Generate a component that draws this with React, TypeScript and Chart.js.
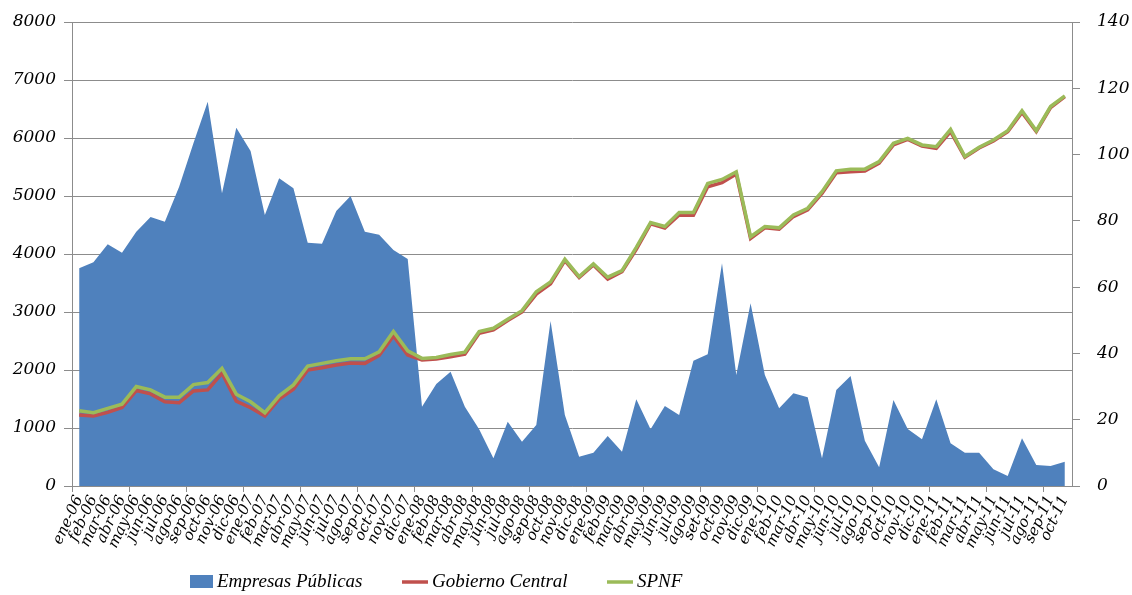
import React, { useEffect, useRef } from "react";
import { Chart, registerables } from "chart.js";

Chart.register(...registerables);

const labels = [
  "ene-06", "feb-06", "mar-06", "abr-06", "may-06", "jun-06", "jul-06", "ago-06", "sep-06", "oct-06", "nov-06", "dic-06",
  "ene-07", "feb-07", "mar-07", "abr-07", "may-07", "jun-07", "jul-07", "ago-07", "sep-07", "oct-07", "nov-07", "dic-07",
  "ene-08", "feb-08", "mar-08", "abr-08", "may-08", "jun-08", "jul-08", "ago-08", "sep-08", "oct-08", "nov-08", "dic-08",
  "ene-09", "feb-09", "mar-09", "abr-09", "may-09", "jun-09", "jul-09", "ago-09", "set-09", "oct-09", "nov-09", "dic-09",
  "ene-10", "feb-10", "mar-10", "abr-10", "may-10", "jun-10", "jul-10", "ago-10", "sep-10", "oct-10", "nov-10", "dic-10",
  "ene-11", "feb-11", "mar-11", "abr-11", "may-11", "jun-11", "jul-11", "ago-11", "sep-11", "oct-11",
];

const empresasPublicas = [
  3753, 3857, 4167, 4023, 4385, 4638, 4557, 5161, 5908, 6626, 5046, 6178,
  5776, 4672, 5305, 5132, 4195, 4178, 4741, 5000, 4385, 4333, 4069, 3914,
  1368, 1759, 1971, 1368, 977, 477, 1109, 764, 1052, 2845, 1224, 506,
  575, 862, 592, 1494, 977, 1379, 1224, 2161, 2270, 3839, 1914, 3149,
  1914, 1339, 1598, 1529, 477, 1655, 1897, 782, 322, 1483, 983, 805,
  1494, 736, 575, 575, 287, 172, 822, 362, 345, 420,
];

const gobiernoCentral = [
  21.4, 21.1, 22.2, 23.7, 28.8, 27.8, 25.4, 25.1, 28.7, 29.0, 34.0, 25.6,
  23.6, 21.1, 26.2, 29.2, 35.0, 35.7, 36.5, 37.1, 37.0, 39.4, 45.3, 39.5,
  38.0, 38.3, 39.0, 39.8, 46.1, 47.1, 49.9, 52.5, 57.9, 61.0, 68.0, 62.9,
  66.7, 62.4, 64.7, 71.4, 79.1, 77.8, 81.8, 81.7, 90.3, 91.5, 94.1, 74.7,
  77.9, 77.5, 81.3, 83.3, 88.3, 94.5, 94.8, 95.0, 97.4, 102.9, 104.6, 102.6,
  101.9, 106.9, 99.2, 102.0, 104.1, 106.9, 112.7, 106.9, 114.2, 117.5,
];

const spnf = [
  22.7, 22.1, 23.4, 24.7, 30.0, 29.0, 26.8, 26.8, 30.6, 31.2, 35.5, 27.7,
  25.4, 22.1, 27.2, 30.5, 36.2, 37.0, 37.8, 38.4, 38.4, 40.5, 46.6, 40.8,
  38.5, 38.8, 39.7, 40.4, 46.6, 47.6, 50.3, 52.9, 58.6, 61.6, 68.4, 63.2,
  67.0, 63.0, 65.0, 72.0, 79.5, 78.3, 82.5, 82.5, 91.3, 92.5, 94.8, 75.2,
  78.3, 77.9, 81.8, 83.8, 88.8, 95.1, 95.6, 95.6, 97.9, 103.4, 104.9, 102.9,
  102.4, 107.6, 99.4, 102.2, 104.4, 107.2, 113.2, 107.2, 114.5, 117.7,
];

const seriesNames = ["Empresas Públicas", "Gobierno Central", "SPNF"];
const seriesColors = ["#4F81BD", "#C0504D", "#9BBB59"];

const GRID = "#8c8c8c";
const tickFont = { family: "'DejaVu Serif'", style: "italic" as const, size: 17 };
const xFont = { family: "'DejaVu Serif'", style: "italic" as const, size: 15 };

export default function App() {
  const ref = useRef<HTMLCanvasElement | null>(null);

  useEffect(() => {
    if (!ref.current) return;

    const legendPlugin = {
      id: "customLegend",
      afterDraw(chart: any) {
        const ctx = chart.ctx;
        ctx.save();
        ctx.font = "italic 19px 'Liberation Serif'";
        ctx.textBaseline = "middle";
        ctx.fillStyle = "#000";
        const y = 582;
        ctx.fillStyle = seriesColors[0];
        ctx.fillRect(190, 575, 23, 13);
        ctx.fillStyle = "#000";
        ctx.fillText(seriesNames[0], 217, y);
        ctx.strokeStyle = seriesColors[1];
        ctx.lineWidth = 3.5;
        ctx.beginPath();
        ctx.moveTo(402, y);
        ctx.lineTo(428, y);
        ctx.stroke();
        ctx.fillText(seriesNames[1], 432, y);
        ctx.strokeStyle = seriesColors[2];
        ctx.beginPath();
        ctx.moveTo(607, y);
        ctx.lineTo(633, y);
        ctx.stroke();
        ctx.fillText(seriesNames[2], 637, y);
        ctx.restore();
      },
    };

    const zeroPad = (s: any) => {
      s.paddingTop = 0;
      s.paddingBottom = 0;
    };

    const chart = new Chart(ref.current, {
      type: "line",
      data: {
        labels,
        datasets: [
          {
            label: seriesNames[0],
            data: empresasPublicas,
            yAxisID: "y",
            fill: "origin",
            backgroundColor: seriesColors[0],
            borderColor: seriesColors[0],
            borderWidth: 0,
            pointRadius: 0,
            tension: 0,
            order: 3,
          },
          {
            label: seriesNames[1],
            data: gobiernoCentral,
            yAxisID: "y1",
            fill: false,
            borderColor: seriesColors[1],
            borderWidth: 3.5,
            pointRadius: 0,
            tension: 0,
            order: 2,
          },
          {
            label: seriesNames[2],
            data: spnf,
            yAxisID: "y1",
            fill: false,
            borderColor: seriesColors[2],
            borderWidth: 3.5,
            pointRadius: 0,
            tension: 0,
            order: 1,
          },
        ],
      },
      options: {
        responsive: false,
        animation: false,
        layout: { padding: { top: 22, left: 0, right: 0, bottom: 0 } },
        plugins: {
          legend: { display: false },
          tooltip: { enabled: false },
        },
        scales: {
          x: {
            type: "category",
            offset: true,
            grid: {
              offset: true,
              drawOnChartArea: false,
              drawTicks: true,
              tickLength: 6,
              color: (c: any) =>
                c.index !== undefined && c.index % 4 === 0 ? GRID : "rgba(0,0,0,0)",
            },
            border: { display: true, color: GRID, width: 1 },
            ticks: {
              autoSkip: false,
              minRotation: 65,
              maxRotation: 65,
              padding: 1,
              color: "#000",
              font: xFont,
            },
            afterFit: (s: any) => {
              s.height = 109;
              s.paddingLeft = 0;
              s.paddingRight = 0;
            },
          },
          y: {
            position: "left",
            min: 0,
            max: 8000,
            ticks: {
              stepSize: 1000,
              padding: 8,
              color: "#000",
              font: tickFont,
              callback: (v: any) => String(v),
            },
            grid: { color: GRID, tickLength: 8, lineWidth: 1 },
            border: { display: true, color: GRID, width: 1 },
            afterFit: (s: any) => {
              s.width = 72;
              zeroPad(s);
            },
          },
          y1: {
            position: "right",
            min: 0,
            max: 140,
            ticks: {
              stepSize: 20,
              padding: 17,
              color: "#000",
              font: tickFont,
              callback: (v: any) => String(v),
            },
            grid: { drawOnChartArea: false, color: GRID, tickLength: 8 },
            border: { display: true, color: GRID, width: 1 },
            afterFit: (s: any) => {
              s.width = 60;
              zeroPad(s);
            },
          },
        },
      },
      plugins: [legendPlugin],
    } as any);

    return () => chart.destroy();
  }, []);

  return (
    <div style={{ position: "fixed", left: 0, top: 0, width: 1132, height: 595, background: "#fff" }}>
      <canvas ref={ref} width={1132} height={595} style={{ display: "block" }} />
    </div>
  );
}
